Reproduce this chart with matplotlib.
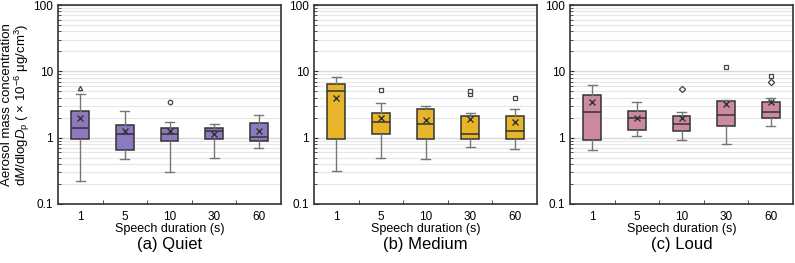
import matplotlib
matplotlib.use('Agg')
import matplotlib.pyplot as plt
from matplotlib.ticker import LogLocator, NullFormatter, FixedLocator

plt.rcParams['font.family'] = ['Liberation Sans', 'DejaVu Sans']
plt.rcParams['mathtext.fontset'] = 'custom'
plt.rcParams['mathtext.rm'] = 'Liberation Sans'
plt.rcParams['mathtext.it'] = 'Liberation Sans:italic'

# ── Datos ────────────────────────────────────────────────────────────────────
durations = ["1", "5", "10", "30", "60"]

# (whislo, q1, med, q3, whishi, mean)
quiet_stats = [
    (0.22, 0.95, 1.40, 2.50, 4.50, 2.00),
    (0.47, 0.65, 1.12, 1.55, 2.50, 1.25),
    (0.30, 0.88, 1.15, 1.40, 1.75, 1.27),
    (0.50, 0.95, 1.25, 1.40, 1.60, 1.15),
    (0.70, 0.90, 1.02, 1.65, 2.20, 1.25),
]
medium_stats = [
    (0.31, 0.97, 5.00, 6.40, 8.30, 4.00),
    (0.50, 1.12, 1.75, 2.35, 3.30, 1.95),
    (0.47, 0.97, 1.60, 2.70, 3.00, 1.85),
    (0.72, 0.97, 1.12, 2.15, 2.35, 1.90),
    (0.68, 0.95, 1.28, 2.15, 2.75, 1.70),
]
loud_stats = [
    (0.65, 0.92, 2.40, 4.40, 6.30, 3.40),
    (1.05, 1.32, 2.00, 2.50, 3.40, 1.95),
    (0.92, 1.25, 1.60, 2.10, 2.45, 2.00),
    (0.80, 1.50, 2.20, 3.60, 3.65, 3.20),
    (1.50, 1.95, 2.45, 3.40, 3.90, 3.40),
]

# outliers: (box index, value, marker)
quiet_out = [(0, 5.7, '^'), (2, 3.4, 'o')]
medium_out = [(1, 5.3, 's'), (3, 4.5, 's'), (3, 5.1, 's'), (4, 3.9, 's')]
loud_out = [(2, 5.5, 'D'), (3, 11.5, 's'), (4, 8.6, 's'), (4, 7.0, 'D')]

panels = [
    ("(a) Quiet", quiet_stats, quiet_out, "#8D79BE"),
    ("(b) Medium", medium_stats, medium_out, "#E6B52A"),
    ("(c) Loud", loud_stats, loud_out, "#CB8AA2"),
]

fig = plt.figure(figsize=(7.95, 2.63), dpi=100)
lefts = [58, 314, 570]

for k, (title, stats, outs, color) in enumerate(panels):
    ax = fig.add_axes([lefts[k] / 795, 1 - 204 / 263, 223 / 795, 199 / 263])
    bxp_stats = []
    for s in stats:
        bxp_stats.append(dict(whislo=s[0], q1=s[1], med=s[2], q3=s[3],
                              whishi=s[4], mean=s[5], fliers=[]))
    ax.bxp(bxp_stats, positions=range(1, 6), widths=0.4, patch_artist=True,
           showmeans=True, showfliers=False,
           boxprops=dict(facecolor=color, edgecolor='#333333', linewidth=1.1),
           medianprops=dict(color='#333333', linewidth=1.1),
           whiskerprops=dict(color='#777777', linewidth=1.0),
           capprops=dict(color='#777777', linewidth=1.0),
           meanprops=dict(marker='x', markeredgecolor='#333333',
                          markersize=4, markeredgewidth=1.0))
    for i, v, m in outs:
        ax.plot(i + 1, v, marker=m, markersize=3.2, markerfacecolor='white',
                markeredgecolor='#444444', markeredgewidth=0.9, linestyle='none')

    ax.set_yscale('log')
    ax.set_ylim(0.1, 100)
    ax.set_xlim(0.5, 5.5)
    ax.set_yticks([0.1, 1, 10, 100])
    ax.set_yticklabels(["0.1", "1", "10", "100"])
    ax.yaxis.set_minor_locator(LogLocator(base=10, subs=range(2, 10)))
    ax.yaxis.set_minor_formatter(NullFormatter())
    ax.grid(True, which='major', axis='y', color='#d9d9d9', linewidth=1.0)
    ax.grid(True, which='minor', axis='y', color='#e6e6e6', linewidth=0.8)
    ax.set_axisbelow(True)

    ax.set_xticks(range(1, 6))
    ax.set_xticklabels(durations)
    ax.xaxis.set_minor_locator(FixedLocator([1.5, 2.5, 3.5, 4.5]))
    ax.tick_params(axis='x', which='major', length=0, labelsize=8.5, pad=5)
    ax.tick_params(axis='x', which='minor', direction='in', length=3,
                   color='#333333')
    ax.tick_params(axis='y', which='both', direction='in', labelsize=8.5,
                   color='#333333')
    ax.tick_params(axis='y', which='minor', length=2)
    ax.tick_params(axis='y', which='major', length=3)
    for sp in ax.spines.values():
        sp.set_color('#333333')
        sp.set_linewidth(1.2)

    ax.set_xlabel("Speech duration (s)", fontsize=9, labelpad=0)
    ax.text(0.5, -0.165, title, transform=ax.transAxes, ha='center',
            va='top', fontsize=12)
    if k == 0:
        ax.set_ylabel("Aerosol mass concentration\n"
                      r"d$\it{M}$/dlog$\it{D}_\mathrm{p}$ ( × 10$^{-6}$ μg/cm$^{3}$)",
                      fontsize=9.5, linespacing=1.05)
        ax.yaxis.set_label_coords(-0.115, 0.5)

fig.savefig("out.png", dpi=100)
